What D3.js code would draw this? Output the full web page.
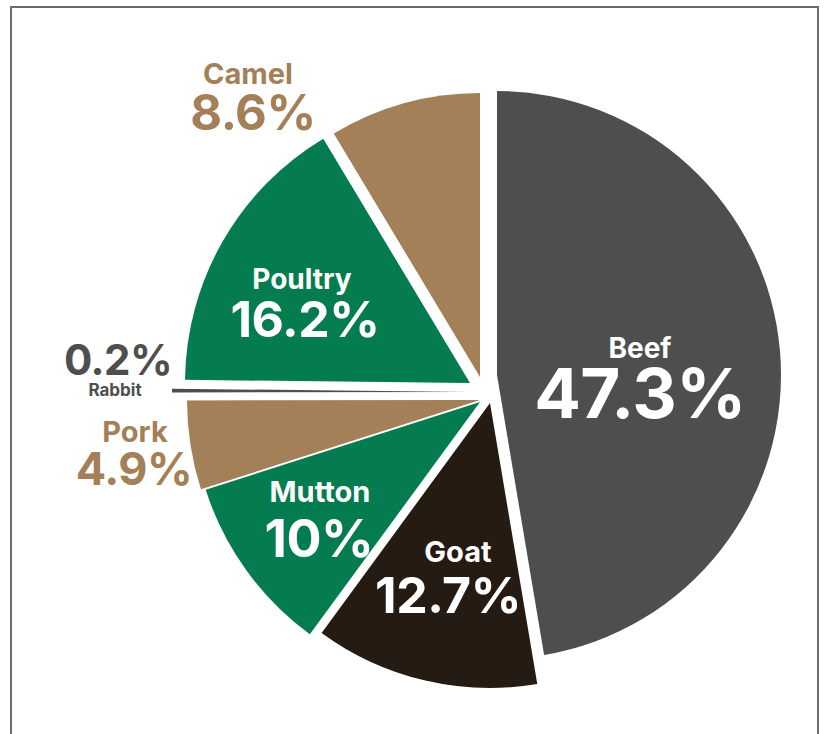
<!DOCTYPE html>
<html><head><meta charset="utf-8">
<script src="https://cdn.jsdelivr.net/npm/d3@7"></script>
<style>
body{margin:0;background:#fff}
svg{display:block}
text{font-family:Inter, Roboto, "Noto Sans", sans-serif;font-weight:700}
</style>
</head><body>
<svg id="chart" width="824" height="734"></svg>
<script>
// ---- data ----
const categories = ["Beef", "Goat", "Mutton", "Pork", "Rabbit", "Poultry", "Camel"];
const values = [47.3, 12.7, 10, 4.9, 0.2, 16.2, 8.6];
const valueLabels = ["47.3%", "12.7%", "10%", "4.9%", "0.2%", "16.2%", "8.6%"];

// ---- styling / layout ----
const sliceColors = {Beef:"#4e4e4e", Goat:"#251b13", Mutton:"#047c50", Pork:"#a38057", Rabbit:"#4e4e4e", Poultry:"#047c50", Camel:"#a38057"};
const center = [485, 390];
// per-slice shift of the apex from the common centre, and outer radius
const explode = {
  Beef:[12,-15,284], Goat:[5,13,285], Mutton:[-5,12,288], Pork:[-5,10,293],
  Rabbit:[-15,2,298], Poultry:[-15,-7,285], Camel:[-5,-13,284]
};
// label layout: [nameX,nameY,nameSize,valueX,valueY,valueSize,color]
const labelLayout = {
  Beef:[640,358,28,640,418,69,"#ffffff"],
  Goat:[458,562,29,448,613,50,"#ffffff"],
  Mutton:[320,502,29,319,557,52,"#ffffff"],
  Pork:[135,442,29,134,485,45,"#a38057"],
  Rabbit:[115,396,17,118,375,42,"#4e4e4e"],
  Poultry:[302,289,28,305,337,50,"#ffffff"],
  Camel:[248,84,29,253,130,49,"#a38057"]
};

const svg = d3.select("#chart");

// frame
svg.append("rect").attr("x",11).attr("y",7).attr("width",807).attr("height",760)
  .attr("fill","none").attr("stroke","#6b6b6b").attr("stroke-width",2);

const rows = categories.map((c,i)=>({category:c, value:values[i], label:valueLabels[i]}));
const pie = d3.pie().sort(null).value(d=>d.value);
const arcs = pie(rows);

const g = svg.append("g").attr("transform",`translate(${center[0]},${center[1]})`);

g.selectAll("path.slice").data(arcs).join("path")
  .attr("class","slice")
  .attr("transform",d=>{const e=explode[d.data.category];return `translate(${e[0]},${e[1]})`;})
  .attr("d",d=>d3.arc().innerRadius(0).outerRadius(explode[d.data.category][2])(d))
  .attr("fill",d=>sliceColors[d.data.category]);

// labels
const lab = svg.append("g");
arcs.forEach(d=>{
  const L = labelLayout[d.data.category];
  lab.append("text").attr("x",L[0]).attr("y",L[1]).attr("text-anchor","middle")
    .attr("font-size",L[2]).attr("fill",L[6]).text(d.data.category);
  lab.append("text").attr("x",L[3]).attr("y",L[4]).attr("text-anchor","middle")
    .attr("font-size",L[5]).attr("fill",L[6]).attr("letter-spacing","-0.5").text(d.data.label);
});
</script>
</body></html>
